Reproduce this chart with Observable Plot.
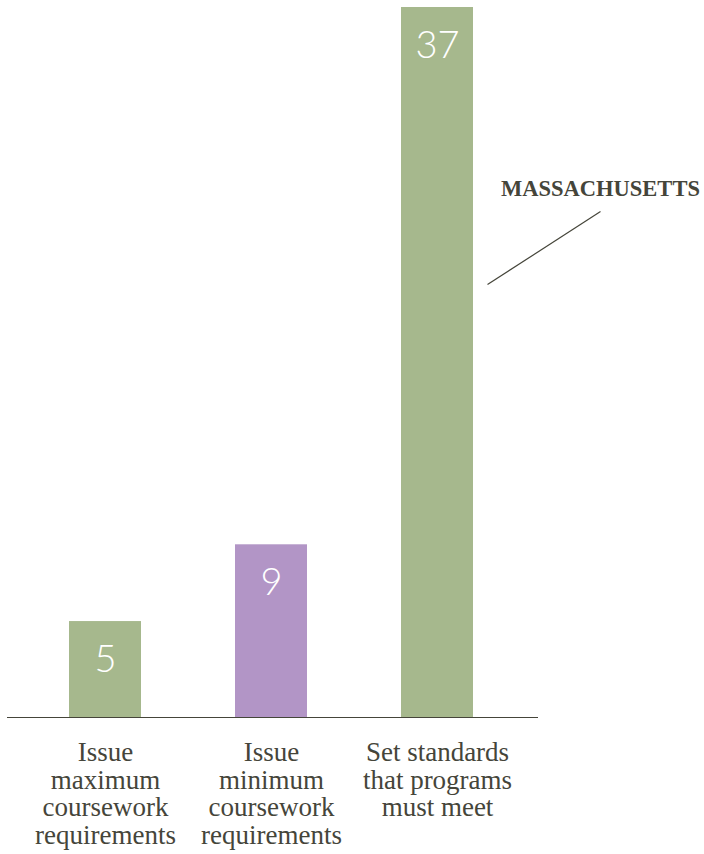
<!DOCTYPE html>
<html>
<head>
<meta charset="utf-8">
<script src="https://cdn.jsdelivr.net/npm/d3@7"></script>
<script src="https://cdn.jsdelivr.net/npm/@observablehq/plot@0.6"></script>
<style>
  html, body { margin: 0; padding: 0; background: #fff; }
  #chart svg { display: block; }
</style>
</head>
<body>
<div id="chart"></div>
<script>
const categories = [
  "Issue\nmaximum\ncoursework\nrequirements",
  "Issue\nminimum\ncoursework\nrequirements",
  "Set standards\nthat programs\nmust meet"
];
const values = [5, 9, 37];
const barColors = ["#a6b88d", "#b295c6", "#a6b88d"];
const annotationLabel = "MASSACHUSETTS";
const annotationCategory = categories[2];
const annotationTextY = 27.2;
const annotationLineY = [22.56, 26.37];

const data = categories.map((c, i) => ({category: c, value: values[i], color: barColors[i]}));

const ink = "#45453a";
const serif = '"Liberation Serif", "Times New Roman", serif';
const thinSans = 'Lato, "Open Sans", sans-serif';

const chart = Plot.plot({
  width: 704,
  height: 854,
  marginTop: 7,
  marginBottom: 137,
  marginLeft: 7,
  marginRight: 166,
  style: {background: "#fff"},
  x: {domain: categories, range: [68, 473], paddingInner: 0.5676, paddingOuter: 0, axis: null},
  y: {domain: [0, 37], axis: null},
  marks: [
    Plot.barY(data, {x: "category", y: "value", fill: "color"}),
    Plot.ruleY([0], {stroke: ink, strokeWidth: 1.2}),
    Plot.text(data, {
      x: "category", y: "value", text: d => String(d.value),
      dy: 38, fill: "#fff", fontSize: 38, fontFamily: thinSans, fontWeight: 300
    }),
    Plot.text(data, {
      x: "category", y: 0, text: "category",
      dy: 24, lineAnchor: "top", lineHeight: 1.02,
      fontSize: 27, fill: ink, fontFamily: serif
    }),
    Plot.text([annotationLabel], {
      x: () => annotationCategory, y: () => annotationTextY, text: d => d,
      dx: 163, fontSize: 22.5, fontWeight: "bold", fill: ink, fontFamily: serif,
      lineAnchor: "bottom"
    }),
    Plot.link([annotationLineY], {
      x1: () => annotationCategory, x2: () => annotationCategory,
      y1: d => d[0], y2: d => d[1],
      stroke: ink, strokeWidth: 1.2,
      render(index, scales, values, dimensions, context, next) {
        const x1 = Array.from(values.x1, v => v + 50);
        const x2 = Array.from(values.x2, v => v + 163);
        return next(index, scales, {...values, x1, x2}, dimensions, context);
      }
    })
  ]
});

document.getElementById("chart").appendChild(chart);
</script>
</body>
</html>
